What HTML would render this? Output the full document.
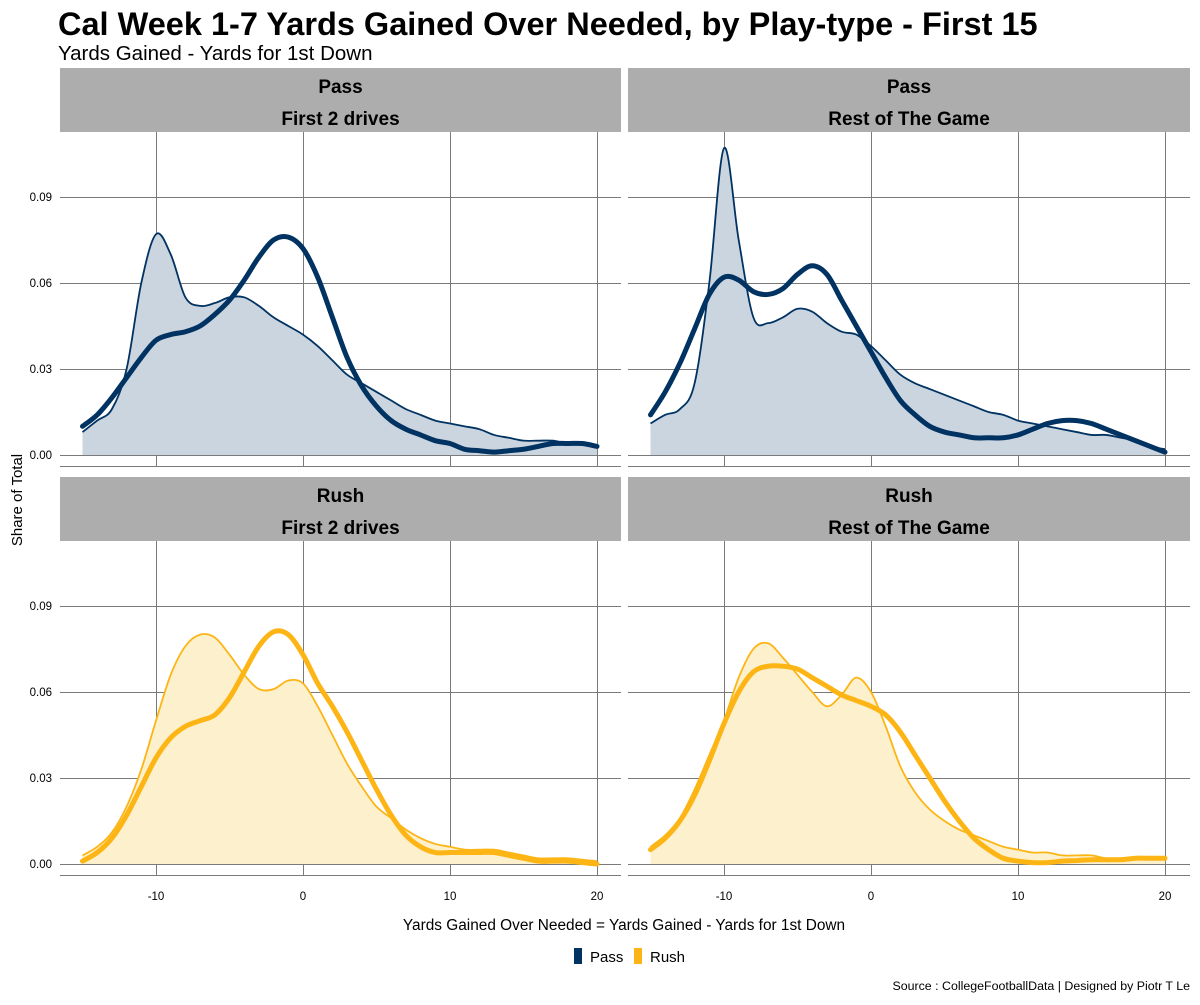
<!DOCTYPE html>
<html><head><meta charset="utf-8"><style>
body{margin:0;background:#fff;font-family:"Liberation Sans",sans-serif}
svg text{font-family:"Liberation Sans",sans-serif}
</style></head><body>
<svg id="c" width="1200" height="1000" viewBox="0 0 1200 1000">
<text x="58" y="35" font-size="32.5" font-weight="bold" fill="#000">Cal Week 1-7 Yards Gained Over Needed, by Play-type - First 15</text>
<text x="58" y="60" font-size="20.5" fill="#000">Yards Gained - Yards for 1st Down</text>
<text transform="translate(22,500) rotate(-90)" text-anchor="middle" font-size="15">Share of Total</text>
<text x="624" y="930" text-anchor="middle" font-size="15.4">Yards Gained Over Needed = Yards Gained - Yards for 1st Down</text>
<rect x="574" y="948" width="8" height="16" fill="#003262"/>
<text x="590" y="962" font-size="15">Pass</text>
<rect x="634" y="948" width="8" height="16" fill="#FDB515"/>
<text x="650" y="962" font-size="15">Rush</text>
<text x="1190" y="990" text-anchor="end" font-size="12.4">Source : CollegeFootballData | Designed by Piotr T Le</text>
</svg>
<script>
const xs=[-15,-14,-13,-12,-11,-10,-9,-8,-7,-6,-5,-4,-3,-2,-1,0,1,2,3,4,5,6,7,8,9,10,11,12,13,14,15,16,17,18,19,20];
const xTicks=[-10,0,10,20];
const yTicks=[0,0.03,0.06,0.09];
const yTickLabels=["0.00","0.03","0.06","0.09"];
const passFirstThin=[0.008,0.012,0.016,0.03,0.06,0.077,0.07,0.055,0.052,0.053,0.055,0.055,0.052,0.048,0.045,0.042,0.038,0.033,0.028,0.025,0.022,0.019,0.016,0.014,0.012,0.011,0.010,0.009,0.007,0.006,0.005,0.005,0.005,0.004,0.004,0.003];
const passFirstThick=[0.010,0.014,0.02,0.027,0.034,0.040,0.042,0.043,0.045,0.049,0.054,0.061,0.069,0.075,0.076,0.072,0.062,0.048,0.034,0.024,0.017,0.012,0.009,0.007,0.005,0.004,0.002,0.0015,0.001,0.0015,0.002,0.003,0.004,0.004,0.004,0.003];
const passRestThin=[0.011,0.014,0.016,0.025,0.06,0.107,0.075,0.048,0.046,0.048,0.051,0.050,0.046,0.043,0.042,0.038,0.033,0.028,0.025,0.023,0.021,0.019,0.017,0.015,0.014,0.012,0.011,0.01,0.009,0.008,0.007,0.007,0.006,0.005,0.003,0.002];
const passRestThick=[0.014,0.022,0.032,0.044,0.056,0.062,0.061,0.057,0.056,0.058,0.063,0.066,0.063,0.054,0.045,0.036,0.027,0.019,0.014,0.010,0.008,0.007,0.006,0.006,0.006,0.007,0.009,0.011,0.012,0.012,0.011,0.009,0.007,0.005,0.003,0.001];
const rushFirstThin=[0.003,0.006,0.011,0.02,0.033,0.05,0.066,0.076,0.080,0.079,0.073,0.066,0.061,0.061,0.064,0.063,0.055,0.045,0.035,0.027,0.020,0.016,0.012,0.009,0.007,0.006,0.005,0.005,0.005,0.004,0.003,0.002,0.002,0.002,0.0015,0.001];
const rushFirstThick=[0.001,0.004,0.009,0.017,0.027,0.037,0.044,0.048,0.050,0.052,0.058,0.067,0.076,0.081,0.080,0.073,0.063,0.055,0.046,0.036,0.026,0.017,0.010,0.006,0.004,0.004,0.004,0.004,0.004,0.003,0.002,0.001,0.001,0.001,0.0005,0];
const rushRestThin=[0.006,0.01,0.016,0.026,0.038,0.05,0.065,0.075,0.077,0.072,0.066,0.060,0.055,0.059,0.065,0.060,0.048,0.034,0.025,0.019,0.015,0.012,0.010,0.008,0.006,0.005,0.004,0.004,0.003,0.003,0.003,0.002,0.002,0.002,0.002,0.002];
const rushRestThick=[0.005,0.009,0.015,0.024,0.036,0.049,0.060,0.067,0.069,0.069,0.068,0.065,0.062,0.059,0.057,0.055,0.052,0.046,0.038,0.030,0.022,0.015,0.009,0.005,0.002,0.001,0.0005,0.0005,0.001,0.0012,0.0015,0.0015,0.0015,0.002,0.002,0.002];

const NS="http://www.w3.org/2000/svg";
const svg=document.getElementById('c');
function mk(t,a,p){const e=document.createElementNS(NS,t);for(const k in a)e.setAttribute(k,a[k]);(p||svg).appendChild(e);return e;}
const panels=[
 {x0:60,x1:621,sy:68,py:132,t1:"Pass",t2:"First 2 drives",thin:passFirstThin,thick:passFirstThick,col:"#003262",fill:"#cbd5df",name:"pass-first-2-drives",left:true,bottom:false},
 {x0:628,x1:1190,sy:68,py:132,t1:"Pass",t2:"Rest of The Game",thin:passRestThin,thick:passRestThick,col:"#003262",fill:"#cbd5df",name:"pass-rest-of-game",left:false,bottom:false},
 {x0:60,x1:621,sy:477,py:541,t1:"Rush",t2:"First 2 drives",thin:rushFirstThin,thick:rushFirstThick,col:"#FDB515",fill:"#fdf0cc",name:"rush-first-2-drives",left:true,bottom:true},
 {x0:628,x1:1190,sy:477,py:541,t1:"Rush",t2:"Rest of The Game",thin:rushRestThin,thick:rushRestThick,col:"#FDB515",fill:"#fdf0cc",name:"rush-rest-of-game",left:false,bottom:true}
];
function path(pts){let d="M"+pts[0][0]+","+pts[0][1];for(let i=0;i<pts.length-1;i++){const p0=pts[i-1]||pts[i],p1=pts[i],p2=pts[i+1],p3=pts[i+2]||p2;
 d+=" C"+(p1[0]+(p2[0]-p0[0])/6)+","+(p1[1]+(p2[1]-p0[1])/6)+" "+(p2[0]-(p3[0]-p1[0])/6)+","+(p2[1]-(p3[1]-p1[1])/6)+" "+p2[0]+","+p2[1];}return d;}
panels.forEach(p=>{
 const g=mk('g',{});
 
 
 const off=p.x0-60;
 const X=v=>off+303+(v)*14.7;
 const y0=p.py+323, Y=v=>y0-v*2867;
 const s=mk('rect',{x:p.x0,y:p.sy,width:p.x1-p.x0,height:64,fill:"#adadad"},g);
 
 
 const t1=mk('text',{x:(p.x0+p.x1)/2,y:p.sy+25,"text-anchor":"middle","font-size":19,"font-weight":"bold"},g);t1.textContent=p.t1;
 
 
 const t2=mk('text',{x:(p.x0+p.x1)/2,y:p.sy+57,"text-anchor":"middle","font-size":19,"font-weight":"bold"},g);t2.textContent=p.t2;
 
 
 const bot=p.py+334;
 yTicks.forEach((v,i)=>{const l=mk('line',{x1:p.x0,x2:p.x1,y1:Math.round(Y(v))+0.5,y2:Math.round(Y(v))+0.5,stroke:"#7a7a7a","stroke-width":1},g);
  
  if(p.left){const t=mk('text',{x:52,y:Y(v)+4,"text-anchor":"end","font-size":11.5},g);t.textContent=yTickLabels[i];
  }});
 xTicks.forEach(v=>{const xx=Math.round(X(v))+0.5;const l=mk('line',{x1:xx,x2:xx,y1:p.py,y2:bot,stroke:"#7a7a7a","stroke-width":1},g);
  
  if(p.bottom){const t=mk('text',{x:X(v),y:900,"text-anchor":"middle","font-size":11.5},g);t.textContent=v;
  }});
 const ax=mk('line',{x1:p.x0,x2:p.x1,y1:bot+0.5,y2:bot+0.5,stroke:"#7a7a7a"},g);
 
 const thin=xs.map((v,i)=>[X(v),Y(p.thin[i])]);
 const a=mk('path',{d:path(thin)+" L"+X(xs[xs.length-1])+","+y0+" L"+X(xs[0])+","+y0+" Z",fill:p.fill,stroke:"none"},g);
 
 const l1=mk('path',{d:path(thin),fill:"none",stroke:p.col,"stroke-width":1.8},g);
 
 const thick=xs.map((v,i)=>[X(v),Y(p.thick[i])]);
 const l2=mk('path',{d:path(thick),fill:"none",stroke:p.col,"stroke-width":5,"stroke-linecap":"round"},g);
 
});
</script>
</body></html>
